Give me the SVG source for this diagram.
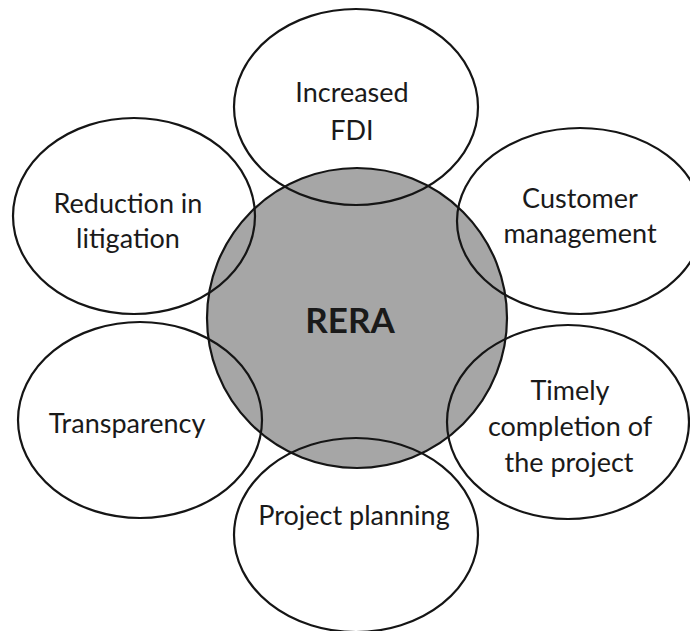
<svg xmlns="http://www.w3.org/2000/svg" width="690" height="631" viewBox="0 0 690 631">
<style>
.bg{fill:#ffffff}
.core{fill:#a6a6a6;stroke:#151515;stroke-width:2.2}
.oval{fill:none;stroke:#151515;stroke-width:2.2}
.lbl{font-family:Lato,"Liberation Sans",sans-serif;font-size:27px;fill:#1a1a1a;text-anchor:middle}
.core-lbl{font-family:Lato,"Liberation Sans",sans-serif;font-size:35px;font-weight:bold;fill:#1a1a1a;text-anchor:middle}
</style>
<rect class="bg" x="0" y="0" width="690" height="631"/>
<g id="rera">
<circle class="core" cx="357" cy="318" r="150"/>
<text class="core-lbl" x="350" y="333">RERA</text>
</g>
<g id="connectors"></g>
<g id="fdi">
<ellipse class="oval" cx="356" cy="107" rx="122" ry="98"/>
<text class="lbl" x="352" y="102">Increased</text>
<text class="lbl" x="352" y="140">FDI</text>
</g>
<g id="litigation">
<ellipse class="oval" cx="134" cy="216" rx="121" ry="98"/>
<text class="lbl" x="128" y="213">Reduction in</text>
<text class="lbl" x="128" y="248">litigation</text>
</g>
<g id="customer">
<ellipse class="oval" cx="580" cy="221" rx="123" ry="93"/>
<text class="lbl" x="580" y="208">Customer</text>
<text class="lbl" x="580" y="243">management</text>
</g>
<g id="transparency">
<ellipse class="oval" cx="140" cy="420" rx="122" ry="98"/>
<text class="lbl" x="127" y="433">Transparency</text>
</g>
<g id="timely">
<ellipse class="oval" cx="568" cy="422" rx="121" ry="97"/>
<text class="lbl" x="570" y="400">Timely</text>
<text class="lbl" x="570" y="436">completion of</text>
<text class="lbl" x="569" y="472">the project</text>
</g>
<g id="planning">
<ellipse class="oval" cx="356" cy="535" rx="122" ry="97"/>
<text class="lbl" x="354" y="525">Project planning</text>
</g>
</svg>
